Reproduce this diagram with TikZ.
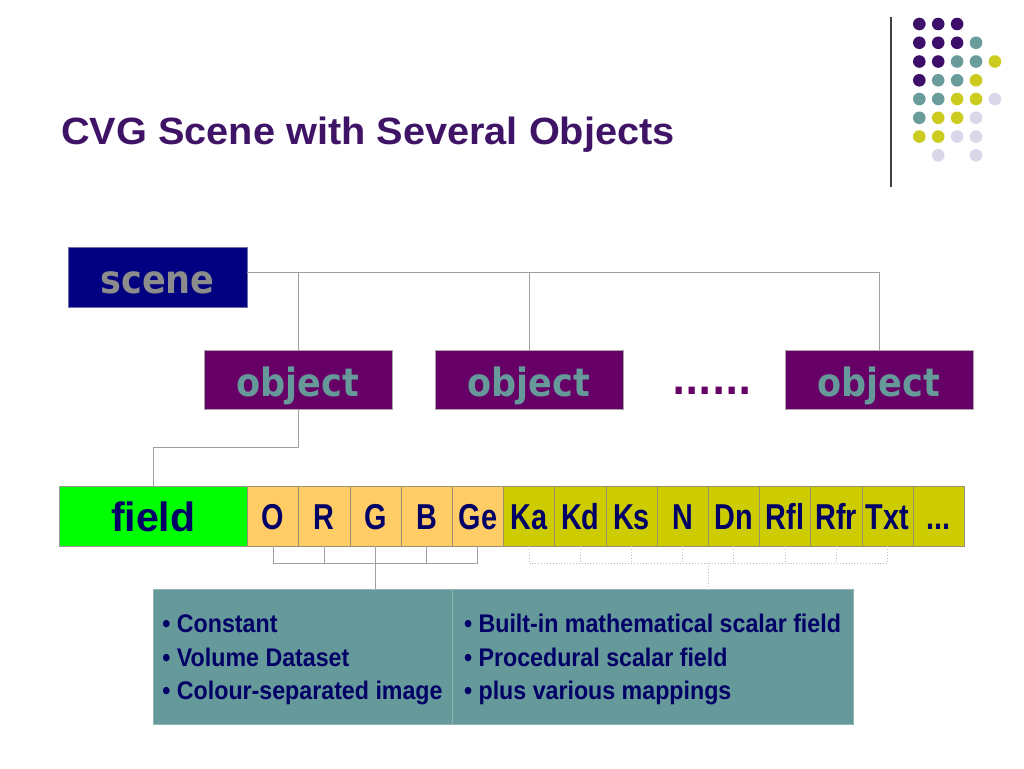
\documentclass[tikz,border=0pt]{standalone}
\usepackage{fontspec}
\setmainfont{Liberation Sans}
\newfontfamily\titlefont[FakeStretch=1.045]{Liberation Sans}
\newfontfamily\boxfont[FakeStretch=0.9]{DejaVu Sans}
\newfontfamily\cellfont[FakeStretch=0.8]{Liberation Sans}
\newfontfamily\listfont[FakeStretch=0.91]{Liberation Sans}
\usetikzlibrary{calc}
\definecolor{titlec}{HTML}{3F1467}
\definecolor{navyc}{HTML}{000080}
\definecolor{scenetxt}{HTML}{8C8C8C}
\definecolor{scenebd}{HTML}{6F6FA0}
\definecolor{objfill}{HTML}{660066}
\definecolor{tealc}{HTML}{669999}
\definecolor{fieldg}{HTML}{00FF00}
\definecolor{cellorange}{HTML}{FFCC66}
\definecolor{cellyellow}{HTML}{CCCC00}
\definecolor{cellbd}{HTML}{9A9070}
\definecolor{txtnavy}{HTML}{000066}
\definecolor{connc}{HTML}{A0A0A0}
\definecolor{dotc}{HTML}{BDBDBD}
\definecolor{listbd}{HTML}{8FB5B5}
\definecolor{dotp}{HTML}{3D0F6B}
\definecolor{dott}{HTML}{6A9C9C}
\definecolor{doty}{HTML}{CCCC20}
\definecolor{dotl}{HTML}{D8D8EA}
\definecolor{rulec}{HTML}{404040}
\tikzset{
  box/.style={anchor=north west, inner sep=0pt, outer sep=0pt, line width=0.8pt},
  scenebox/.style={box, fill=navyc, draw=scenebd, minimum width=179pt, minimum height=60pt,
    text=scenetxt, font=\boxfont\bfseries\fontsize{39}{44}\selectfont, text height=32pt, text depth=0pt},
  objbox/.style={box, fill=objfill, draw=gray!70, minimum width=188pt, minimum height=59pt,
    text=tealc, font=\boxfont\bfseries\fontsize{39}{44}\selectfont, text height=34pt, text depth=0pt},
  fieldbox/.style={box, fill=fieldg, draw=gray!80, minimum width=188.5pt, minimum height=60pt,
    text=txtnavy, font=\bfseries\fontsize{41}{46}\selectfont, text height=31.4pt, text depth=0pt},
  cell/.style={box, draw=cellbd, minimum width=51.2pt, minimum height=60pt,
    text=txtnavy, font=\cellfont\bfseries\fontsize{36}{40}\selectfont, text height=27pt, text depth=0pt},
  listbox/.style={box, fill=tealc, draw=listbd, minimum height=135pt, text=txtnavy, align=left,
    font=\listfont\bfseries\fontsize{25.5}{33.4}\selectfont},
  conn/.style={draw=connc, line width=1pt},
  dconn/.style={draw=dotc, line width=0.9pt, dotted},
}
\begin{document}
\begin{tikzpicture}[x=1pt, y=-1pt]
\useasboundingbox (0,0) rectangle (1024,768);
\fill[white] (0,0) rectangle (1024,768);

% title and decoration
\node[anchor=base west, inner sep=0pt, text=titlec, font=\titlefont\bfseries\fontsize{38}{42}\selectfont] (title) at (61,144) {CVG Scene with Several Objects};
\draw[rulec, line width=1.5pt] (891,17) -- (891,187);
\foreach \c/\r in {0/0,1/0,2/0,0/1,1/1,2/1,0/2,1/2,0/3}
  \fill[dotp] ({919.3+18.9*\c},{24+18.76*\r}) circle[radius=6.3pt];
\foreach \c/\r in {3/1,2/2,3/2,1/3,2/3,0/4,1/4,0/5}
  \fill[dott] ({919.3+18.9*\c},{24+18.76*\r}) circle[radius=6.3pt];
\foreach \c/\r in {4/2,3/3,2/4,3/4,1/5,2/5,0/6,1/6}
  \fill[doty] ({919.3+18.9*\c},{24+18.76*\r}) circle[radius=6.3pt];
\foreach \c/\r in {4/4,3/5,2/6,3/6,1/7,3/7}
  \fill[dotl] ({919.3+18.9*\c},{24+18.76*\r}) circle[radius=6.3pt];

% scene and objects
\node[scenebox] (scene) at (68,247) {scene};
\node[objbox] (o1) at (204,350) {object};
\node[objbox] (o2) at (435,350) {object};
\node[objbox] (o3) at (785,350) {object};
\node[anchor=base, inner sep=0pt, text=objfill, font=\boxfont\bfseries\fontsize{39}{44}\selectfont] (etc) at (712,394) {......};

\coordinate (bus) at ($(scene.east)+(0,-5)$);
\draw[conn] (bus) -| (o3.north);
\draw[conn] (o1.north) -- (o1.north |- bus);
\draw[conn] (o2.north) -- (o2.north |- bus);

% field row
\node[fieldbox] (field) at (59,486) {field};
\draw[conn] (o1.south) -- ++(0,38) -| (field.north);
\foreach \t [count=\i] in {O,R,G,B,Ge}
  \node[cell, fill=cellorange] (c\i) at ({247.5+(\i-1)*51.2},486) {\t};
\foreach \t [count=\i from 6] in {Ka,Kd,Ks,N,Dn,Rfl,Rfr,Txt}
  \node[cell, fill=cellyellow] (c\i) at ({247.5+(\i-1)*51.2},486) {\t};
\node[cell, fill=cellyellow] (c14) at ({247.5+13*51.2},486) {...};

% description boxes
\node[listbox, minimum width=299pt] (lbox) at (153,589)
  {\rule{0pt}{25pt}• Constant\\• Volume Dataset\\• Colour-separated image};
\node[listbox, minimum width=401pt] (rbox) at (452,589)
  {\rule{0pt}{25pt}• Built-in mathematical scalar field\\• Procedural scalar field\\• plus various mappings};

% brackets
\coordinate (ob) at (0,563);
\draw[conn] (c1.south) -- (c1.south |- ob) -- (c5.south |- ob) -- (c5.south);
\foreach \k in {2,4} \draw[conn] (c\k.south) -- (c\k.south |- ob);
\draw[conn] (c3.south) -- (c3.south |- lbox.north);

\draw[dconn] (c6.south) -- (c6.south |- ob) -- (c13.south |- ob) -- (c13.south);
\foreach \k in {7,8,9,10,11,12} \draw[dconn] (c\k.south) -- (c\k.south |- ob);
\coordinate (dm) at ($(c6.south)!0.5!(c13.south)$);
\draw[dconn] (dm |- ob) -- (dm |- rbox.north);
\end{tikzpicture}
\end{document}
